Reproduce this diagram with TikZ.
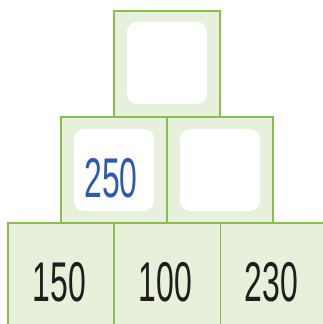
\documentclass[tikz,border=0pt]{standalone}
\usepackage{fontspec}
\setmainfont{Liberation Sans}
\definecolor{boxfill}{HTML}{E7F0DA}
\definecolor{boxline}{HTML}{88BF4A}
\definecolor{numblue}{HTML}{2D5CAE}
\definecolor{numblack}{HTML}{1E1E1E}
\tikzset{
  cell/.style={draw=boxline, fill=boxfill, line width=1.4pt, minimum width=106pt, minimum height=106pt, inner sep=0pt, anchor=south west},
  hole/.style={fill=white, rounded corners=10pt, minimum width=80pt, minimum height=82pt, inner sep=0pt},
  num/.style={font=\fontsize{56pt}{56pt}\selectfont, inner sep=0pt}
}
\newcommand{\narrow}[1]{\scalebox{0.57}[1]{#1}}
\begin{document}
\begin{tikzpicture}[x=1pt,y=1pt]
\useasboundingbox (0,0) rectangle (323,324);
\begin{scope}
\clip (0,0) rectangle (323,324);
% bottom row
\node[cell] (b1) at (7.3,-5.7) {};
\node[cell] (b2) at (113.5,-5.7) {};
\node[cell] (b3) at (219.5,-5.7) {};
% middle row
\node[cell] (m1) at (60.3,100.3) {};
\node[cell] (m2) at (166.3,100.3) {};
% top
\node[cell] (t1) at (113.3,206.3) {};
% holes
\node[hole] (th) at ([yshift=1pt]t1.center) {};
\node[hole] (mh1) at ([yshift=0pt]m1.center) {};
\node[hole] (mh2) at ([yshift=0pt]m2.center) {};
% numbers
\node[num, text=numblue] (n250) at (111,146) {\narrow{250}};
\node[num, text=numblack] (n150) at (59.5,41.7) {\narrow{150}};
\node[num, text=numblack] (n100) at (165.5,41.7) {\narrow{100}};
\node[num, text=numblack] (n230) at (271.2,41.7) {\narrow{230}};
\end{scope}
\end{tikzpicture}
\end{document}
